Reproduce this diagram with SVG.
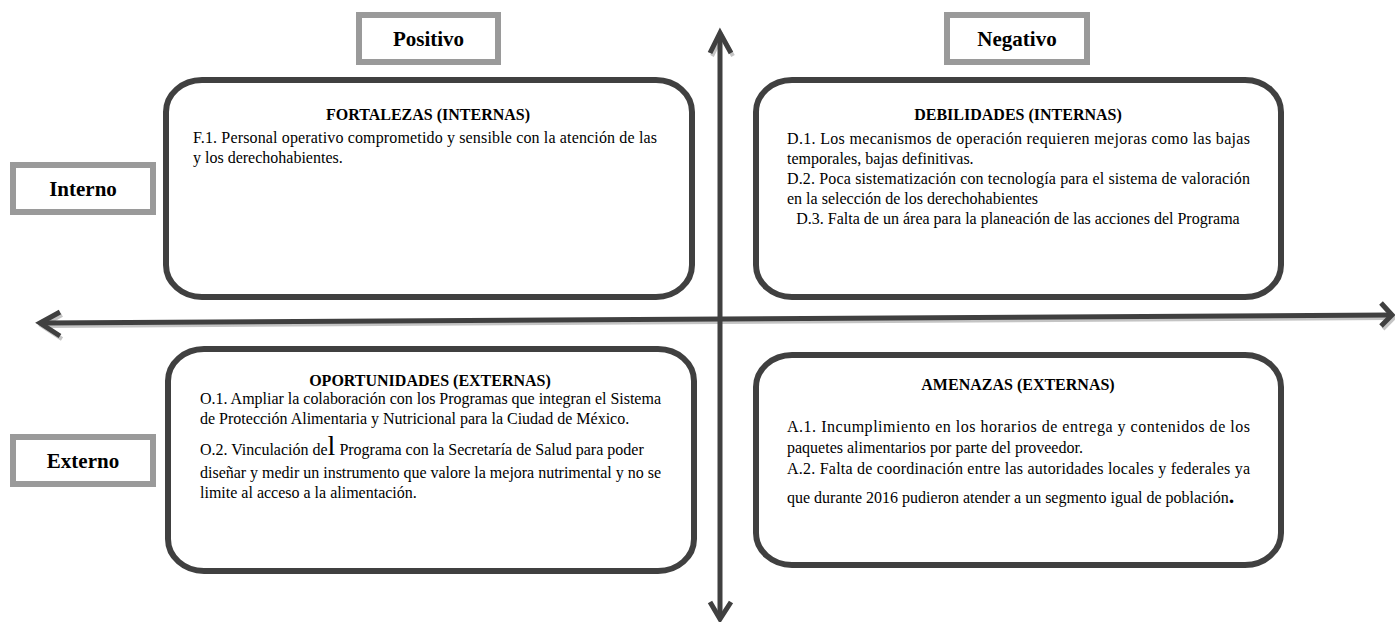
<svg xmlns="http://www.w3.org/2000/svg" width="1395" height="622" viewBox="0 0 1395 622">
<style>
  .lbl { fill: #ffffff; stroke: #9a9a9a; stroke-width: 6; }
  .quad { fill: #ffffff; stroke: #404040; stroke-width: 6; }
  .lt { font-family: "Liberation Serif", "Times New Roman", serif; font-weight: bold; font-size: 21px; fill: #000; text-anchor: middle; }
  .hd { font-family: "Liberation Serif", "Times New Roman", serif; font-weight: bold; font-size: 16px; fill: #000; text-anchor: middle; }
  .bd { font-family: "Liberation Serif", "Times New Roman", serif; font-size: 16px; fill: #000; }
  .ax { fill: none; stroke: #404040; stroke-width: 5; stroke-linejoin: miter; stroke-linecap: butt; }
  .sh { fill: none; stroke: #c4c4c4; stroke-width: 4; stroke-linejoin: miter; }
</style>
<rect width="1395" height="622" fill="#ffffff"/>

<g id="connectors">
  <g transform="translate(2,3)">
    <line class="sh" x1="42" y1="323" x2="1390" y2="315"/>
    <polyline class="sh" points="60,312 40,323 60,336"/>
    <polyline class="sh" points="1381,303 1392,315 1381,326"/>
    <polyline class="sh" points="710,53 720,33 731,53"/>
  </g>
  <line class="ax" x1="42" y1="323" x2="1390" y2="315"/>
  <polyline class="ax" points="60,312 40,323 60,336"/>
  <polyline class="ax" points="1381,303 1392,315 1381,326"/>
  <line class="ax" x1="720" y1="36" x2="720" y2="616"/>
  <polyline class="ax" points="710,53 720,33 731,53"/>
  <polyline class="ax" points="710,602 720,619 731,602"/>
</g>

<g id="positivo">
  <rect class="lbl" x="359" y="15" width="139" height="47"/>
  <text class="lt" x="428.5" y="46">Positivo</text>
</g>
<g id="negativo">
  <rect class="lbl" x="947" y="15" width="140" height="47"/>
  <text class="lt" x="1017" y="46">Negativo</text>
</g>
<g id="interno">
  <rect class="lbl" x="13" y="165" width="140" height="47"/>
  <text class="lt" x="83" y="196">Interno</text>
</g>
<g id="externo">
  <rect class="lbl" x="13" y="437" width="140" height="47"/>
  <text class="lt" x="83" y="468">Externo</text>
</g>

<g id="fortalezas">
  <rect class="quad" x="166" y="80" width="526" height="217" rx="36" ry="32"/>
  <text class="hd" x="428" y="120">FORTALEZAS (INTERNAS)</text>
  <text class="bd" x="193" y="143" textLength="464" lengthAdjust="spacing">F.1. Personal operativo comprometido y sensible con la atención de las</text>
  <text class="bd" x="193" y="163">y los derechohabientes.</text>
</g>

<g id="debilidades">
  <rect class="quad" x="756" y="80" width="525" height="217" rx="36" ry="32"/>
  <text class="hd" x="1018" y="120">DEBILIDADES (INTERNAS)</text>
  <text class="bd" x="787" y="144" textLength="463" lengthAdjust="spacing">D.1. Los mecanismos de operación requieren mejoras como las bajas</text>
  <text class="bd" x="787" y="164">temporales, bajas definitivas.</text>
  <text class="bd" x="787" y="184" textLength="463" lengthAdjust="spacing">D.2. Poca sistematización con tecnología para el sistema de valoración</text>
  <text class="bd" x="787" y="204">en la selección de los derechohabientes</text>
  <text class="bd" x="1018" y="224" text-anchor="middle">D.3. Falta de un área para la planeación de las acciones del Programa</text>
</g>

<g id="oportunidades">
  <rect class="quad" x="168" y="349" width="526" height="222" rx="36" ry="32"/>
  <text class="hd" x="430" y="386">OPORTUNIDADES (EXTERNAS)</text>
  <text class="bd" x="200" y="404" textLength="461" lengthAdjust="spacing">O.1. Ampliar la colaboración con los Programas que integran el Sistema</text>
  <text class="bd" x="200" y="424">de Protección Alimentaria y Nutricional para la Ciudad de México.</text>
  <text class="bd" x="200" y="455">O.2. Vinculación de<tspan font-size="28px">l</tspan> Programa con la Secretaría de Salud para poder</text>
  <text class="bd" x="200" y="478" textLength="461" lengthAdjust="spacing">diseñar y medir un instrumento que valore la mejora nutrimental y no se</text>
  <text class="bd" x="200" y="498">limite al acceso a la alimentación.</text>
</g>

<g id="amenazas">
  <rect class="quad" x="756" y="355" width="525" height="210" rx="36" ry="32"/>
  <text class="hd" x="1018" y="390">AMENAZAS (EXTERNAS)</text>
  <text class="bd" x="787" y="432" textLength="463" lengthAdjust="spacing">A.1. Incumplimiento en los horarios de entrega y contenidos de los</text>
  <text class="bd" x="787" y="453">paquetes alimentarios por parte del proveedor.</text>
  <text class="bd" x="787" y="474" textLength="463" lengthAdjust="spacing">A.2. Falta de coordinación entre las autoridades locales y federales ya</text>
  <text class="bd" x="787" y="503">que durante 2016 pudieron atender a un segmento igual de población<tspan font-size="22px" font-weight="bold">.</tspan></text>
</g>
</svg>
